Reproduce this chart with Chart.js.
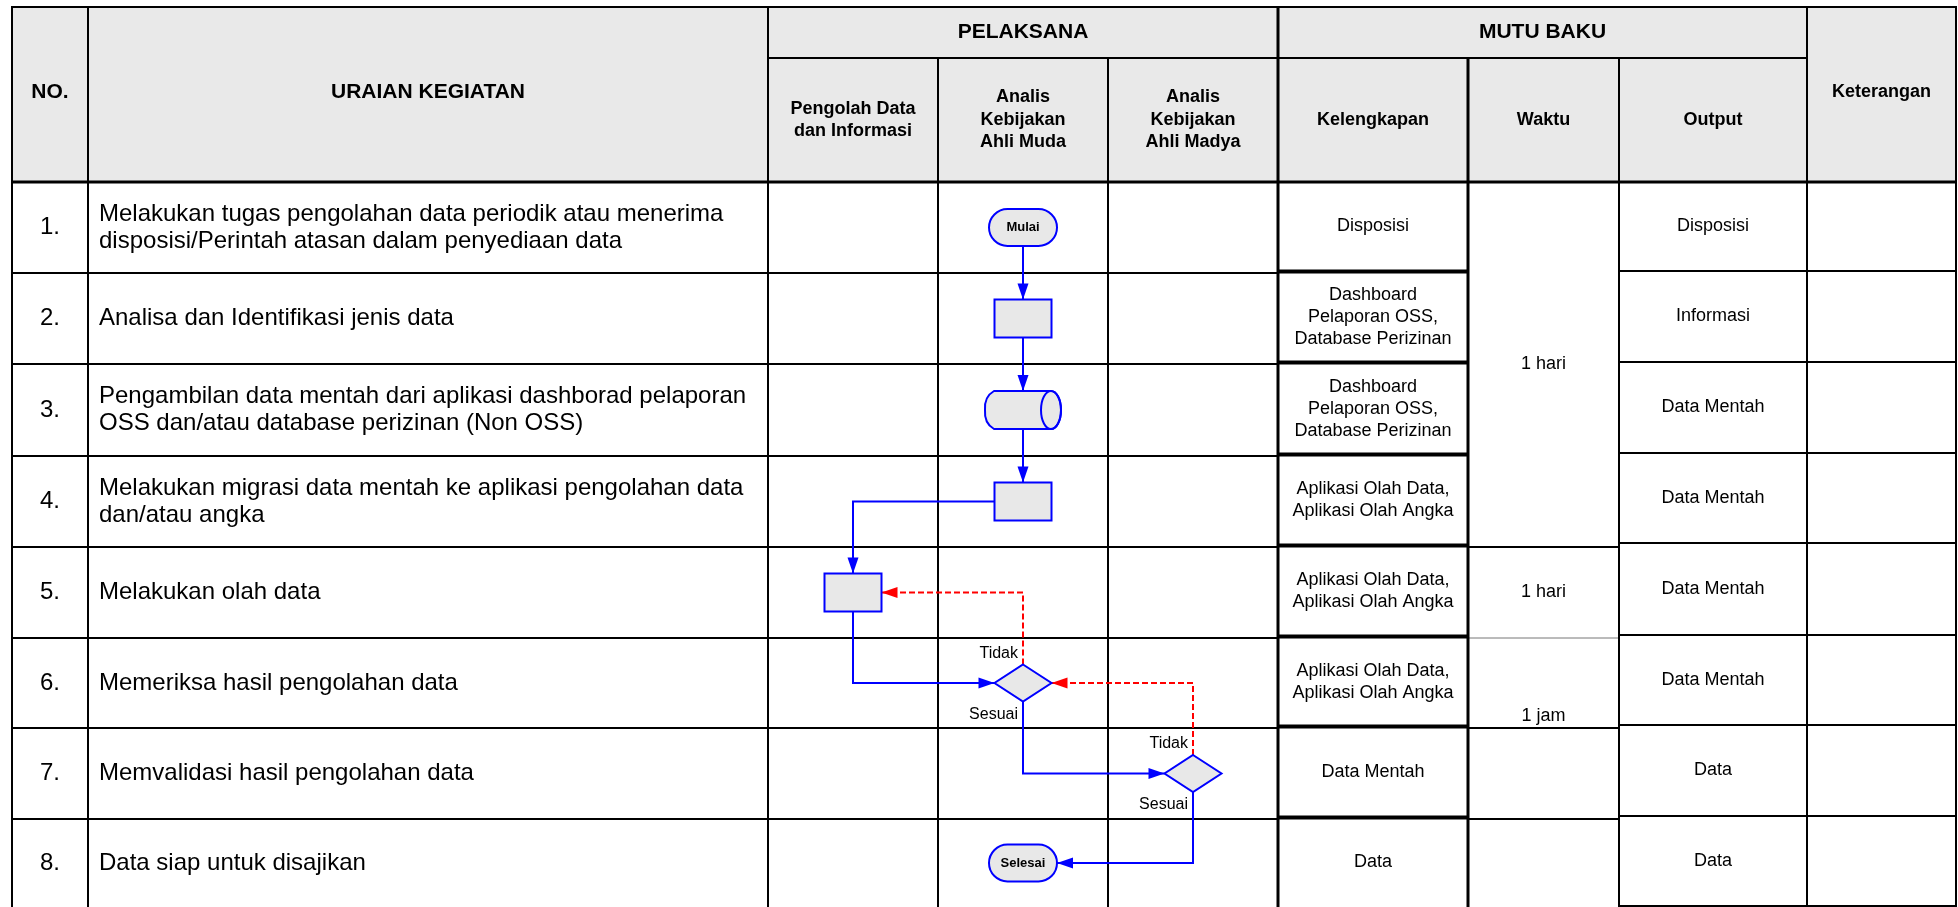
<!DOCTYPE html>
<html lang="id">
<head>
<meta charset="UTF-8">
<script src="https://cdn.jsdelivr.net/npm/chart.js"></script>
<title>SOP Pengolahan Data</title>
<style>
  html, body { margin: 0; padding: 0; background: #fff; }
  #wrap { width: 1958px; height: 907px; }
</style>
</head>
<body>
<div id="wrap"><canvas id="sop"></canvas></div>
<script>
// ---- isi tabel ----
const nomor = ["1.", "2.", "3.", "4.", "5.", "6.", "7.", "8."];
const uraian = [
    ["Melakukan tugas pengolahan data periodik atau menerima", "disposisi/Perintah atasan dalam penyediaan data"],
    ["Analisa dan Identifikasi jenis data"],
    ["Pengambilan data mentah dari aplikasi dashborad pelaporan", "OSS dan/atau database perizinan (Non OSS)"],
    ["Melakukan migrasi data mentah ke aplikasi pengolahan data", "dan/atau angka"],
    ["Melakukan olah data"],
    ["Memeriksa hasil pengolahan data"],
    ["Memvalidasi hasil pengolahan data"],
    ["Data siap untuk disajikan"]
];
const pelaksana = [
    ["Pengolah Data", "dan Informasi"],
    ["Analis", "Kebijakan", "Ahli Muda"],
    ["Analis", "Kebijakan", "Ahli Madya"]
];
const mutuBaku = ["Kelengkapan", "Waktu", "Output"];
const kelengkapan = [
    ["Disposisi"],
    ["Dashboard", "Pelaporan OSS,", "Database Perizinan"],
    ["Dashboard", "Pelaporan OSS,", "Database Perizinan"],
    ["Aplikasi Olah Data,", "Aplikasi Olah Angka"],
    ["Aplikasi Olah Data,", "Aplikasi Olah Angka"],
    ["Aplikasi Olah Data,", "Aplikasi Olah Angka"],
    ["Data Mentah"],
    ["Data"]
];
// waktu: [teks, baris awal, baris akhir]
const waktu = [["1 hari", 0, 3], ["1 hari", 4, 4], ["1 jam", 5, 5], ["", 6, 6], ["", 7, 7]];
const output = ["Disposisi", "Informasi", "Data Mentah", "Data Mentah", "Data Mentah", "Data Mentah", "Data", "Data"];

// ---- alur (satu simbol per baris) ----
const flowLane = [1, 1, 1, 1, 0, 1, 2, 1];
const flowShape = ["terminal", "process", "storage", "process", "process", "decision", "decision", "terminal"];
const flowText = ["Mulai", "", "", "", "", "", "", "Selesai"];
const linkFrom = [0, 1, 2, 3, 4, 5, 5, 6, 6];
const linkTo = [1, 2, 3, 4, 5, 4, 6, 5, 7];
const linkRoute = ["down", "down", "down", "side-down", "down-side", "up-side", "down-side", "up-side", "down-side"];
const linkLabel = ["", "", "", "", "", "Tidak", "Sesuai", "Tidak", "Sesuai"];

// ---- tata letak ----
const W = 1958, H = 907;
const colEdges = [12, 88, 768, 938, 1108, 1278, 1468, 1619, 1807, 1956];
const headTop = 7, headMid = 58, headBottom = 182;
const rowEdges = [182, 273, 364, 456, 547, 638, 728, 819, 907];
const outRowEdges = [182, 271, 362, 453, 543, 635, 725, 816, 906];
const shapeSize = { terminal: [68, 37], process: [57, 38], storage: [76, 38], decision: [57, 37] };
const FONT = '"Liberation Sans", Arial, sans-serif';
const BLUE = "#0000ff", RED = "#ff0000", GREY = "#e9e9e9";

const nodes = flowLane.map((lane, i) => {
    const s = shapeSize[flowShape[i]];
    return {
        cx: (colEdges[2 + lane] + colEdges[3 + lane]) / 2,
        cy: (rowEdges[i] + rowEdges[i + 1]) / 2,
        w: s[0], h: s[1]
    };
});

function routePoints(k) {
    const a = nodes[linkFrom[k]], b = nodes[linkTo[k]];
    const side = Math.sign(b.cx - a.cx);
    switch (linkRoute[k]) {
        case "down":
            return [{ x: a.cx, y: a.cy + a.h / 2 }, { x: b.cx, y: b.cy - b.h / 2 }];
        case "side-down":
            return [{ x: a.cx + side * a.w / 2, y: a.cy }, { x: b.cx, y: a.cy }, { x: b.cx, y: b.cy - b.h / 2 }];
        case "down-side":
            return [{ x: a.cx, y: a.cy + a.h / 2 }, { x: a.cx, y: b.cy }, { x: b.cx - side * b.w / 2, y: b.cy }];
        case "up-side":
            return [{ x: a.cx, y: a.cy - a.h / 2 }, { x: a.cx, y: b.cy }, { x: b.cx - side * b.w / 2, y: b.cy }];
    }
}

const datasets = linkFrom.map((f, k) => ({
    data: routePoints(k),
    showLine: true,
    borderColor: linkLabel[k] === "Tidak" ? RED : BLUE,
    borderWidth: 2,
    borderDash: linkLabel[k] === "Tidak" ? [6, 3] : [],
    pointRadius: 0,
    tension: 0,
    fill: false
}));

function textLines(ctx, lines, x, cy, lh, align) {
    ctx.textAlign = align || "center";
    ctx.textBaseline = "middle";
    const y0 = cy - (lines.length - 1) * lh / 2;
    lines.forEach((t, i) => ctx.fillText(t, x, y0 + i * lh));
}

const tablePlugin = {
    id: "sopTable",
    beforeDatasetsDraw(chart) {
        const ctx = chart.ctx, xs = chart.scales.x, ys = chart.scales.y;
        const X = v => xs.getPixelForValue(v), Y = v => ys.getPixelForValue(v);
        const hline = (x0, x1, y, lw, col) => {
            ctx.beginPath(); ctx.lineWidth = lw || 2; ctx.strokeStyle = col || "#000";
            ctx.moveTo(X(x0), Y(y)); ctx.lineTo(X(x1), Y(y)); ctx.stroke();
        };
        const vline = (x, y0, y1, lw) => {
            ctx.beginPath(); ctx.lineWidth = lw || 2; ctx.strokeStyle = "#000";
            ctx.moveTo(X(x), Y(y0)); ctx.lineTo(X(x), Y(y1)); ctx.stroke();
        };
        const C = colEdges;
        ctx.save();
        ctx.fillStyle = "#fff";
        ctx.fillRect(0, 0, chart.width, chart.height);
        ctx.fillStyle = GREY;
        ctx.fillRect(X(C[0]), Y(headTop), X(C[9]) - X(C[0]), Y(headBottom) - Y(headTop));

        // garis badan tabel
        for (let r = 1; r < rowEdges.length - 1; r++) hline(C[0], C[5], rowEdges[r]);
        for (let r = 1; r < rowEdges.length - 1; r++) hline(C[5], C[6], rowEdges[r] - 1.5, 4);
        waktu.forEach(w => {
            const yb = rowEdges[w[2] + 1];
            if (w[2] === 4) hline(C[6], C[7], yb, 1, "#777");
            else if (w[2] < 7) hline(C[6], C[7], yb);
        });
        for (let r = 1; r < outRowEdges.length; r++) hline(C[7], C[9], outRowEdges[r]);

        // garis kepala dan kolom
        hline(C[0], C[9], headTop);
        hline(C[2], C[8], headMid);
        hline(C[0], C[9], headBottom, 3);
        [0, 1, 2, 5, 8, 9].forEach(i => vline(C[i], headTop - 1, H + 2, i === 5 ? 3 : 2));
        [3, 4, 6, 7].forEach(i => vline(C[i], headMid, H + 2, i === 6 ? 3 : 2));

        // teks kepala
        ctx.fillStyle = "#000";
        ctx.font = "bold 21px " + FONT;
        const hc = (headTop + headBottom) / 2 - 2;
        textLines(ctx, ["NO."], X((C[0] + C[1]) / 2), Y(hc), 0);
        textLines(ctx, ["URAIAN KEGIATAN"], X((C[1] + C[2]) / 2), Y(hc), 0);
        textLines(ctx, ["PELAKSANA"], X((C[2] + C[5]) / 2), Y((headTop + headMid) / 2), 0);
        textLines(ctx, ["MUTU BAKU"], X((C[5] + C[8]) / 2), Y((headTop + headMid) / 2), 0);
        ctx.font = "bold 18px " + FONT;
        const sc = (headMid + headBottom) / 2;
        pelaksana.forEach((p, i) => textLines(ctx, p, X((C[2 + i] + C[3 + i]) / 2), Y(sc), 22.5));
        mutuBaku.forEach((m, i) => textLines(ctx, [m], X((C[5 + i] + C[6 + i]) / 2), Y(sc), 0));
        textLines(ctx, ["Keterangan"], X((C[8] + C[9]) / 2), Y(hc), 0);

        // teks badan
        ctx.font = "24px " + FONT;
        nomor.forEach((n, r) => {
            const cy = (rowEdges[r] + rowEdges[r + 1]) / 2;
            textLines(ctx, [n], X((C[0] + C[1]) / 2), Y(cy), 0);
            textLines(ctx, uraian[r], X(C[1] + 11), Y(cy), 27, "left");
        });
        ctx.font = "18px " + FONT;
        kelengkapan.forEach((k, r) => textLines(ctx, k, X((C[5] + C[6]) / 2), Y((rowEdges[r] + rowEdges[r + 1]) / 2 - 1), 22));
        waktu.forEach(w => {
            const top = rowEdges[w[1]], bot = rowEdges[w[2] + 1];
            const cy = w[0] === "1 jam" ? bot - 12 : (top + bot) / 2;
            textLines(ctx, [w[0]], X((C[6] + C[7]) / 2), Y(cy), 0);
        });
        output.forEach((o, r) => textLines(ctx, [o], X((C[7] + C[8]) / 2), Y((outRowEdges[r] + outRowEdges[r + 1]) / 2), 0));
        ctx.restore();
    },
    afterDatasetsDraw(chart) {
        const ctx = chart.ctx, xs = chart.scales.x, ys = chart.scales.y;
        const X = v => xs.getPixelForValue(v), Y = v => ys.getPixelForValue(v);
        ctx.save();
        // mata panah
        chart.data.datasets.forEach(ds => {
            const p = ds.data, a = p[p.length - 2], b = p[p.length - 1];
            const x1 = X(b.x), y1 = Y(b.y), ang = Math.atan2(y1 - Y(a.y), x1 - X(a.x));
            const L = 16, hw = 5.5;
            ctx.beginPath();
            ctx.moveTo(x1, y1);
            ctx.lineTo(x1 - L * Math.cos(ang) + hw * Math.sin(ang), y1 - L * Math.sin(ang) - hw * Math.cos(ang));
            ctx.lineTo(x1 - L * Math.cos(ang) - hw * Math.sin(ang), y1 - L * Math.sin(ang) + hw * Math.cos(ang));
            ctx.closePath();
            ctx.fillStyle = ds.borderColor;
            ctx.fill();
        });
        // simbol
        ctx.lineWidth = 2;
        ctx.strokeStyle = BLUE;
        nodes.forEach((n, i) => {
            const x0 = X(n.cx - n.w / 2), x1 = X(n.cx + n.w / 2), y0 = Y(n.cy - n.h / 2), y1 = Y(n.cy + n.h / 2);
            const cx = X(n.cx), cy = Y(n.cy), h = y1 - y0;
            ctx.fillStyle = "#e8e8e8";
            ctx.beginPath();
            if (flowShape[i] === "terminal") {
                const r = h / 2;
                ctx.moveTo(x0 + r, y0); ctx.lineTo(x1 - r, y0);
                ctx.arc(x1 - r, cy, r, -Math.PI / 2, Math.PI / 2);
                ctx.lineTo(x0 + r, y1);
                ctx.arc(x0 + r, cy, r, Math.PI / 2, Math.PI * 1.5);
                ctx.closePath(); ctx.fill(); ctx.stroke();
            } else if (flowShape[i] === "process") {
                ctx.rect(x0, y0, x1 - x0, h); ctx.fill(); ctx.stroke();
            } else if (flowShape[i] === "decision") {
                ctx.moveTo(cx, y0); ctx.lineTo(x1, cy); ctx.lineTo(cx, y1); ctx.lineTo(x0, cy);
                ctx.closePath(); ctx.fill(); ctx.stroke();
            } else if (flowShape[i] === "storage") {
                const rx = 10, ex = x1 - rx, ch = 9;
                ctx.moveTo(x0 + ch, y0); ctx.lineTo(ex, y0);
                ctx.ellipse(ex, cy, rx, h / 2, 0, -Math.PI / 2, Math.PI / 2);
                ctx.lineTo(x0 + ch, y1);
                ctx.quadraticCurveTo(x0 - 1, y1 - h * 0.15, x0, cy);
                ctx.quadraticCurveTo(x0 - 1, y0 + h * 0.15, x0 + ch, y0);
                ctx.closePath(); ctx.fill(); ctx.stroke();
                ctx.beginPath();
                ctx.ellipse(ex, cy, rx, h / 2, 0, 0, Math.PI * 2);
                ctx.stroke();
            }
            if (flowText[i]) {
                ctx.fillStyle = "#000";
                ctx.font = "bold 13px " + FONT;
                textLines(ctx, [flowText[i]], cx, cy, 0);
            }
        });
        // label keputusan
        ctx.fillStyle = "#000";
        ctx.font = "16px " + FONT;
        linkLabel.forEach((lab, k) => {
            if (!lab) return;
            const n = nodes[linkFrom[k]];
            const ly = lab === "Tidak" ? n.cy - n.h / 2 - 11 : n.cy + n.h / 2 + 13;
            textLines(ctx, [lab], X(n.cx - 5), Y(ly), 0, "right");
        });
        ctx.restore();
    }
};

new Chart(document.getElementById("sop"), {
    type: "scatter",
    data: { datasets: datasets },
    options: {
        responsive: true,
        maintainAspectRatio: false,
        animation: false,
        layout: { padding: 0 },
        plugins: { legend: { display: false }, tooltip: { enabled: false } },
        events: [],
        scales: {
            x: { type: "linear", min: 0, max: W, display: false },
            y: { type: "linear", min: 0, max: H, reverse: true, display: false }
        }
    },
    plugins: [tablePlugin]
});
</script>
</body>
</html>
